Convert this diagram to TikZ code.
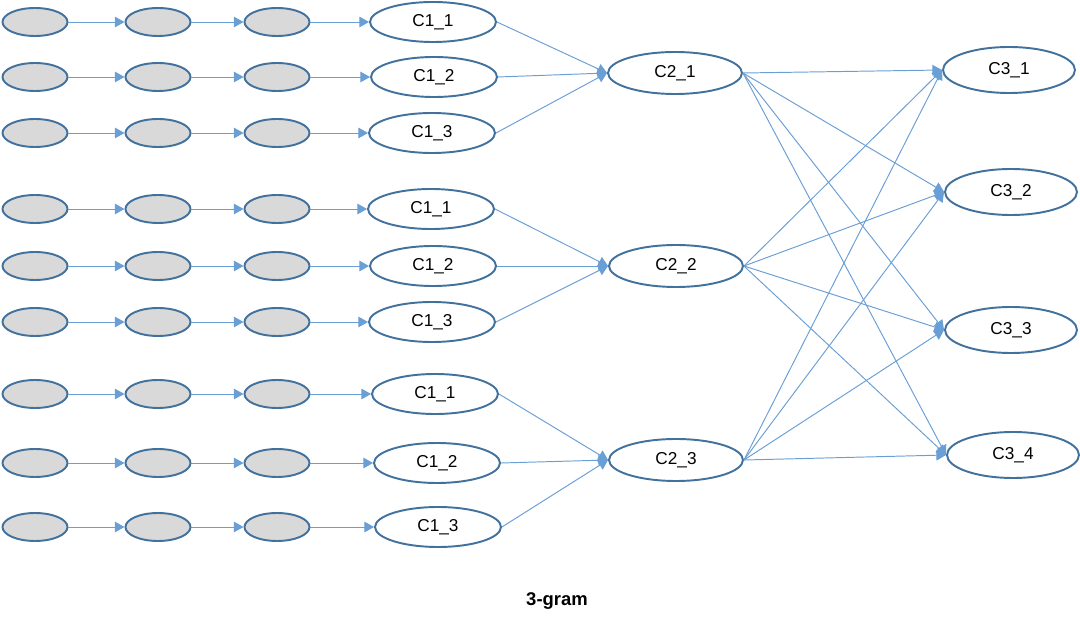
\documentclass[tikz,border=0pt]{standalone}
\usepackage{fontspec}
\setmainfont{Liberation Sans}
\usetikzlibrary{shapes.geometric, arrows.meta}

\definecolor{edgeblue}{HTML}{6A9FD6}
\definecolor{rimblue}{HTML}{41719C}
\definecolor{cellgray}{HTML}{D9D9D9}

\begin{document}
\begin{tikzpicture}[x=0.02cm, y=-0.02cm, >={Triangle[length=5.5pt, width=6pt]},
    cell/.style={ellipse, draw=rimblue, line width=1.1pt, fill=cellgray, minimum width=1.3cm, minimum height=0.56cm, inner sep=0pt},
    conv/.style={ellipse, draw=rimblue, line width=1.1pt, fill=white, inner sep=0pt, font=\fontsize{9.8}{11}\selectfont},
    link/.style={->, draw=edgeblue, line width=0.55pt}]
    \useasboundingbox (0,0) rectangle (1080,628);

    % Input rows: three cells and one C1 node each
    \foreach \r/\y/\xc/\k in {1/22/433/1, 2/77/434/2, 3/133/432/3, 4/209/431/1, 5/266/433/2, 6/322/432/3, 7/394/435/1, 8/463/437/2, 9/527/438/3} {
        \node[cell] (g\r-a) at (35,\y) {};
        \node[cell] (g\r-b) at (158,\y) {};
        \node[cell] (g\r-c) at (277,\y) {};
        \node[conv, minimum width=2.52cm, minimum height=0.8cm] (c1-\r) at (\xc,\y) {C1\_\k};
        \draw[link] (g\r-a) -- (g\r-b);
        \draw[link] (g\r-b) -- (g\r-c);
        \draw[link] (g\r-c) -- (c1-\r);
    }

    % Second layer
    \foreach \i/\x/\y in {1/675/73, 2/676/266, 3/676/460}
        \node[conv, minimum width=2.68cm, minimum height=0.84cm] (c2-\i) at (\x,\y) {C2\_\i};

    % Third layer
    \foreach \j/\x/\y in {1/1009/70, 2/1011/192, 3/1011/330, 4/1013/455}
        \node[conv, minimum width=2.64cm, minimum height=0.92cm] (c3-\j) at (\x,\y) {C3\_\j};

    % C1 -> C2, three per group
    \foreach \r in {1,...,9} {
        \pgfmathtruncatemacro\grp{(\r+2)/3}
        \draw[link] (c1-\r.east) -- (c2-\grp.west);
    }

    % C2 -> C3, fully connected
    \foreach \i in {1,2,3}
        \foreach \j in {1,...,4}
            \draw[link] (c2-\i.east) -- (c3-\j.west);

    \node[font=\bfseries\fontsize{10.5}{12}\selectfont] (title) at (557,601) {3-gram};
\end{tikzpicture}
\end{document}
